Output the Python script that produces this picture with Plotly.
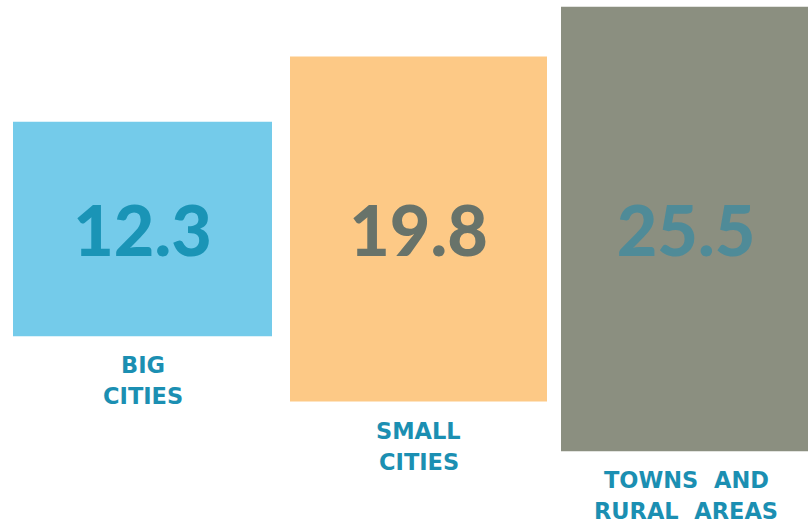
import plotly.graph_objects as go

# Average values by place type
categories = ["BIG<br>CITIES", "SMALL<br>CITIES", "TOWNS  AND<br>RURAL  AREAS"]
values = [12.3, 19.8, 25.5]

# Layout constants (pixel-based x axis, value-based y axis)
W, H = 808, 527
x_centers = [142.5, 418.5, 686]
x_widths = [259, 257, 250]
px_per_unit = 17.43
center_px = 229
bar_colors = ["#74cbea", "#fdc986", "#8b8f80"]
value_colors = ["#1a94b6", "#68736a", "#4f8b98"]
label_color = "#1b8fb2"
label_gap = 14
line_pitch = 31

y_top = center_px / px_per_unit
y_bottom = -(H - center_px) / px_per_unit

fig = go.Figure()
fig.add_trace(go.Bar(
    x=x_centers,
    y=values,
    base=[-v / 2 for v in values],
    width=x_widths,
    marker=dict(color=bar_colors, line=dict(width=0)),
    text=[f"{v:.1f}" for v in values],
    textposition="inside",
    insidetextanchor="middle",
    textangle=0,
    constraintext="none",
    textfont=dict(family="Lato", size=70, color=value_colors, weight=900),
    hoverinfo="skip",
))

# Category labels under each bar, one annotation per line
for xc, v, lab in zip(x_centers, values, categories):
    for i, line in enumerate(lab.split("<br>")):
        fig.add_annotation(
            x=xc, y=-v / 2, text=f"<b>{line}</b>",
            showarrow=False, yanchor="top",
            yshift=-(label_gap + i * line_pitch),
            font=dict(family="DejaVu Sans", size=22.5, color=label_color),
            align="center",
        )

fig.update_layout(
    width=W, height=H,
    margin=dict(l=0, r=0, t=0, b=0),
    paper_bgcolor="white", plot_bgcolor="white",
    showlegend=False,
    xaxis=dict(range=[0, W], visible=False, fixedrange=True),
    yaxis=dict(range=[y_bottom, y_top], visible=False, fixedrange=True),
    uniformtext=dict(mode=False),
)

fig.write_html("out.html")
